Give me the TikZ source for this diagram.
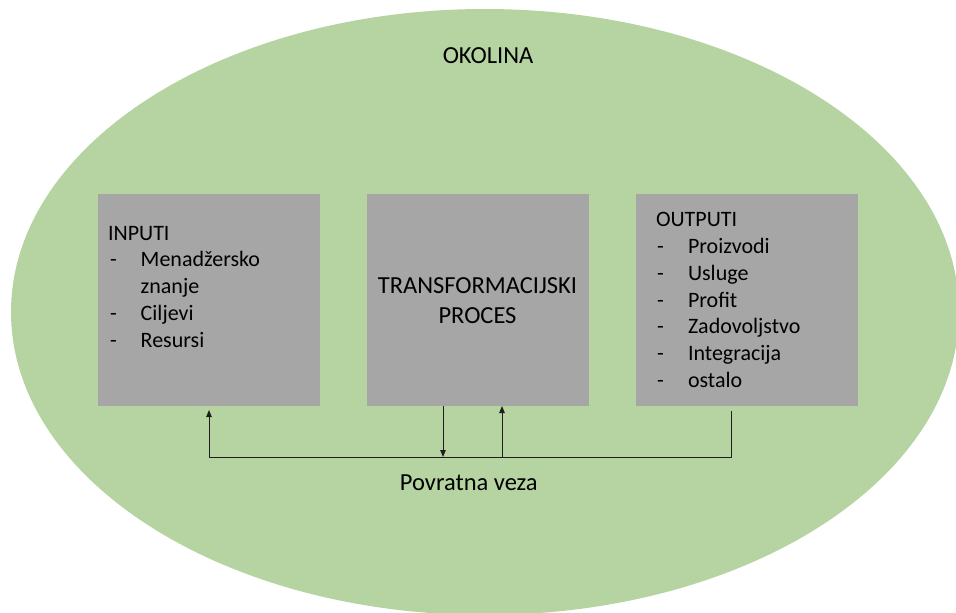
\documentclass[tikz,border=0pt]{standalone}
\usepackage{fontspec}
\setmainfont{Carlito}
\usetikzlibrary{arrows.meta,shapes.geometric}
\definecolor{envgreen}{RGB}{181,212,161}
\definecolor{boxgray}{RGB}{166,166,166}
\definecolor{linegray}{RGB}{30,30,30}
\begin{document}
\begin{tikzpicture}[x=1pt,y=-1pt,
  boxnode/.style={fill=boxgray,draw=none,minimum width=222pt,minimum height=212pt,inner sep=0pt,outer sep=0pt,anchor=north west},
  listtxt/.style={inner sep=0pt,outer sep=0pt,anchor=base west,font=\fontsize{22}{26.84}\selectfont},
  bigtxt/.style={inner sep=0pt,outer sep=0pt,anchor=base,font=\fontsize{24.5}{30}\selectfont},
  fbline/.style={draw=linegray,line width=0.9pt},
  fbarrow/.style={fbline,-{Triangle[length=7pt,width=5.5pt]}}]
\useasboundingbox (0,0) rectangle (956,613);
% environment
\node[ellipse,fill=envgreen,draw=none,minimum width=948pt,minimum height=606pt,inner sep=0pt] (env) at (485,312) {};
\node[bigtxt] (okolina) at (488,63.3) {OKOLINA};
% boxes
\node[boxnode] (inputs) at (98,194) {};
\node[boxnode] (proc) at (367,194) {};
\node[boxnode] (outputs) at (636,194) {};
% inputs text
\node[listtxt] (in0) at (108,240) {INPUTI};
\node[listtxt] (in1d) at (110,266.8) {-};
\node[listtxt] (in1) at (140.7,266.8) {Menadžersko};
\node[listtxt] (in1b) at (140.7,293.6) {znanje};
\node[listtxt] (in2d) at (110,320.4) {-};
\node[listtxt] (in2) at (140.7,320.4) {Ciljevi};
\node[listtxt] (in3d) at (110,347.2) {-};
\node[listtxt] (in3) at (140.7,347.2) {Resursi};
% process text
\node[bigtxt] (p1) at (477.5,293.3) {TRANSFORMACIJSKI};
\node[bigtxt] (p2) at (477.5,323.3) {PROCES};
% outputs text
\node[listtxt] (out0) at (656,226.7) {OUTPUTI};
\node[listtxt] (o1d) at (657,253.5) {-};
\node[listtxt] (o1) at (688,253.5) {Proizvodi};
\node[listtxt] (o2d) at (657,280.3) {-};
\node[listtxt] (o2) at (688,280.3) {Usluge};
\node[listtxt] (o3d) at (657,307.1) {-};
\node[listtxt] (o3) at (688,307.1) {Profit};
\node[listtxt] (o4d) at (657,333.9) {-};
\node[listtxt] (o4) at (688,333.9) {Zadovoljstvo};
\node[listtxt] (o5d) at (657,360.7) {-};
\node[listtxt] (o5) at (688,360.7) {Integracija};
\node[listtxt] (o6d) at (657,387.5) {-};
\node[listtxt] (o6) at (688,387.5) {ostalo};
% feedback
\coordinate (fbR) at (731,411);
\coordinate (fbL) at (209,457);
\coordinate (inTip) at (209,410);
\coordinate (downStart) at (443,406);
\coordinate (downEnd) at (443,457);
\coordinate (upStart) at (502,457);
\coordinate (upEnd) at (502,406);
\draw[fbarrow] (fbR) |- (fbL) -- (inTip);
\draw[fbarrow] (downStart) -- (downEnd);
\draw[fbarrow] (upStart) -- (upEnd);
\node[bigtxt] (fb) at (468.8,490) {Povratna veza};
\end{tikzpicture}
\end{document}
